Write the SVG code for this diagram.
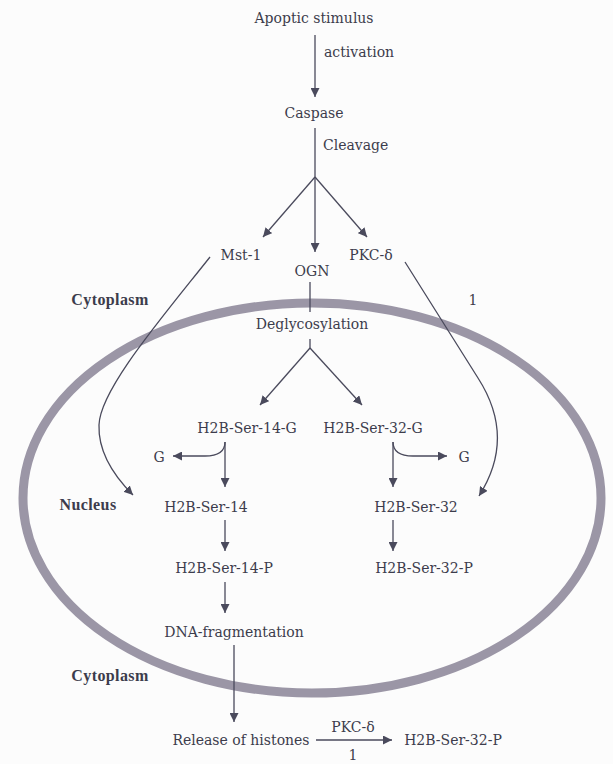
<svg xmlns="http://www.w3.org/2000/svg" width="613" height="764" viewBox="0 0 613 764">
<style>
text{font-family:"DejaVu Serif","Liberation Serif",serif;font-size:14px;fill:#3c3c4c}
.b{font-weight:bold;font-family:"Liberation Serif",serif;font-size:16px;letter-spacing:0.4px}
.c{text-anchor:middle}
.l{stroke:#4a4a5c;stroke-width:1.3;fill:none}
.a{stroke:#4a4a5c;stroke-width:1.3;fill:none;marker-end:url(#ah)}
</style>
<defs>
<marker id="ah" viewBox="0 0 10 10" refX="10" refY="5" markerWidth="9" markerHeight="9" markerUnits="userSpaceOnUse" orient="auto">
<path d="M0,0 L10,5 L0,10 z" fill="#4a4a5c"/>
</marker>
</defs>
<rect width="613" height="764" fill="#fcfcfc"/>
<ellipse id="nucleus-membrane" cx="312" cy="498" rx="289" ry="195" fill="none" stroke="#9b96a6" stroke-width="9"/>
<g id="connectors">
<path class="a" d="M315,35 V97"/>
<path class="l" d="M315,128 V177"/>
<path class="a" d="M315,177 L263,237"/>
<path class="a" d="M315,177 V252"/>
<path class="a" d="M315,177 L367,237"/>
<path class="l" d="M310,282 V312"/>
<path class="l" d="M310,339 V348"/>
<path class="a" d="M310,348 L260,405"/>
<path class="a" d="M310,348 L362,405"/>
<path class="a" d="M225,442 C225,452 217,456 205,456 L173,456"/>
<path class="a" d="M225,442 V487"/>
<path class="a" d="M393,442 C393,452 401,456 413,456 L447,456"/>
<path class="a" d="M393,442 V487"/>
<path class="a" d="M210,257 C160,320 100,390 99,425 C98,455 118,480 133,495"/>
<path class="a" d="M405,262 L478,378 C505,420 502,460 479,496"/>
<path class="a" d="M225,520 V551"/>
<path class="a" d="M393,520 V551"/>
<path class="a" d="M225,582 V613"/>
<path class="a" d="M234,645 V722"/>
<path class="a" d="M316,740 H392"/>
</g>
<g id="apoptic"><text class="c" x="314" y="23">Apoptic stimulus</text></g>
<g id="activation-label"><text x="324" y="57">activation</text></g>
<g id="caspase"><text class="c" x="314" y="118">Caspase</text></g>
<g id="cleavage-label"><text x="323" y="150">Cleavage</text></g>
<g id="mst1"><text class="c" x="241" y="260">Mst-1</text></g>
<g id="ogn"><text class="c" x="312" y="276">OGN</text></g>
<g id="pkc"><text class="c" x="371" y="260">PKC-δ</text></g>
<g id="label-1"><text class="c" x="473" y="305">1</text></g>
<g id="cyto1"><text class="b c" x="110" y="305">Cytoplasm</text></g>
<g id="degly"><text class="c" x="312" y="329">Deglycosylation</text></g>
<g id="h2b14g"><text class="c" x="247" y="433">H2B-Ser-14-G</text></g>
<g id="h2b32g"><text class="c" x="373" y="433">H2B-Ser-32-G</text></g>
<g id="gleft"><text class="c" x="159" y="462">G</text></g>
<g id="gright"><text class="c" x="464" y="462">G</text></g>
<g id="nucleus"><text class="b c" x="88" y="510">Nucleus</text></g>
<g id="h2b14"><text class="c" x="206" y="512">H2B-Ser-14</text></g>
<g id="h2b32"><text class="c" x="416" y="512">H2B-Ser-32</text></g>
<g id="h2b14p"><text class="c" x="224" y="573">H2B-Ser-14-P</text></g>
<g id="h2b32p"><text class="c" x="424" y="573">H2B-Ser-32-P</text></g>
<g id="dna"><text class="c" x="234" y="637">DNA-fragmentation</text></g>
<g id="cyto2"><text class="b c" x="110" y="681">Cytoplasm</text></g>
<g id="release"><text class="c" x="241" y="745">Release of histones</text></g>
<g id="pkc2"><text class="c" x="353" y="732">PKC-δ</text></g>
<g id="label-1b"><text class="c" x="353" y="760">1</text></g>
<g id="h2b32p2"><text class="c" x="453" y="745">H2B-Ser-32-P</text></g>
</svg>
